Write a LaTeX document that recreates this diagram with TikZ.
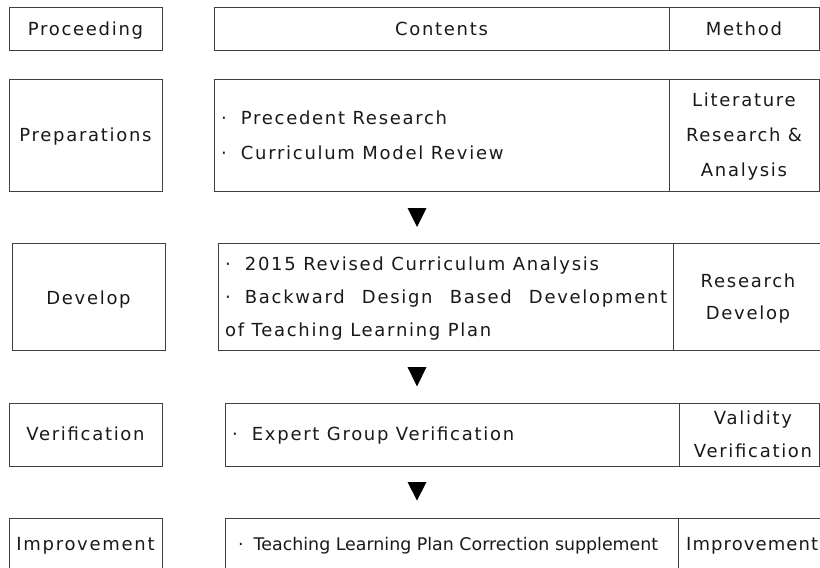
\documentclass[tikz,border=0pt]{standalone}
\usepackage{fontspec}
\setmainfont{DejaVu Sans}[LetterSpace=9.5]
\newfontfamily\plainfont{DejaVu Sans}
\newfontfamily\tightfont{DejaVu Sans}[LetterSpace=6]
\newcommand\bdot{·\hspace{14pt}}
\begin{document}
\begin{tikzpicture}[x=1pt,y=-1pt,
  box/.style={draw=black!75, line width=1.2pt, anchor=north west, inner sep=0pt},
  lbl/.style={font=\fontsize{18}{21}\selectfont, text=black!90, inner sep=0pt},
  ctr/.style={lbl, anchor=base},
  lft/.style={lbl, anchor=base west},
  tri/.style={fill=black}]
\useasboundingbox (0,0) rectangle (820,568);
\clip (0,0) rectangle (820,568);
% header
\node[box, minimum width=153pt, minimum height=43pt] (procH) at (9,7) {};
\node[box, minimum width=455pt, minimum height=43pt] (contH) at (214,7) {};
\node[box, minimum width=150pt, minimum height=43pt] (methH) at (669,7) {};
\node[ctr] (tProc) at (85.5,35) {Proceeding};
\node[ctr] (tCont) at (441.5,35) {Contents};
\node[ctr] (tMeth) at (744,35) {Method};
% row 1
\node[box, minimum width=153pt, minimum height=112pt] (prep) at (9,79) {};
\node[box, minimum width=455pt, minimum height=112pt] (cont1) at (214,79) {};
\node[box, minimum width=150pt, minimum height=112pt] (meth1) at (669,79) {};
\node[ctr] (tPrep) at (85.5,141) {Preparations};
\node[lft] (c1a) at (221,124) {\bdot Precedent Research};
\node[lft] (c1b) at (221,159.5) {\bdot Curriculum Model Review};
\node[ctr] (m1a) at (744,106) {Literature};
\node[ctr] (m1b) at (744,141) {Research \&};
\node[ctr] (m1c) at (744,176) {Analysis};
% arrow 1
\coordinate (a1) at (417,208);
\fill[tri] (a1) ++(-9.5,0) -- ++(19,0) -- ++(-9.5,19) -- cycle;
% row 2
\node[box, minimum width=153pt, minimum height=107pt] (dev) at (12,243) {};
\node[box, minimum width=455pt, minimum height=107pt] (cont2) at (218,243) {};
\node[box, minimum width=160pt, minimum height=107pt] (meth2) at (673,243) {};
\node[ctr] (tDev) at (88.5,304) {Develop};
\node[lft] (c2a) at (225,270) {\bdot 2015 Revised Curriculum Analysis};
\node[lft] (c2b) at (225,303.3) {\makebox[442pt][s]{\bdot Backward\hfil Design\hfil Based\hfil Development}};
\node[lft] (c2c) at (225,336.7) {of Teaching Learning Plan};
\node[ctr] (m2a) at (748,287.3) {Research};
\node[ctr] (m2b) at (748,319.3) {Develop};
% arrow 2
\coordinate (a2) at (417,367);
\fill[tri] (a2) ++(-9.5,0) -- ++(19,0) -- ++(-9.5,19.5) -- cycle;
% row 3
\node[box, minimum width=153pt, minimum height=63pt] (ver) at (9,403) {};
\node[box, minimum width=454pt, minimum height=63pt] (cont3) at (225,403) {};
\node[box, minimum width=140pt, minimum height=63pt] (meth3) at (679,403) {};
\node[ctr] (tVer) at (85.5,440) {Verification};
\node[lft] (c3a) at (232,440) {\bdot Expert Group Verification};
\node[ctr] (m3a) at (753,424) {Validity};
\node[ctr] (m3b) at (753,457.3) {Verification};
% arrow 3
\coordinate (a3) at (417,482);
\fill[tri] (a3) ++(-9.5,0) -- ++(19,0) -- ++(-9.5,18.5) -- cycle;
% row 4
\node[box, minimum width=153pt, minimum height=62pt] (imp) at (9,518) {};
\node[box, minimum width=453pt, minimum height=62pt] (cont4) at (225,518) {};
\node[box, minimum width=160pt, minimum height=62pt] (meth4) at (678,518) {};
\node[ctr] (tImp) at (85.5,550.7) {Improvement};
\node[lbl, anchor=base west, font=\plainfont\fontsize{17.4}{21}\selectfont] (c4a) at (238,550.7) {·\hspace{10pt}Teaching Learning Plan Correction supplement};
\node[lbl, anchor=base west, font=\tightfont\fontsize{18}{21}\selectfont] (m4a) at (686,550.7) {Improvement};
\end{tikzpicture}
\end{document}
